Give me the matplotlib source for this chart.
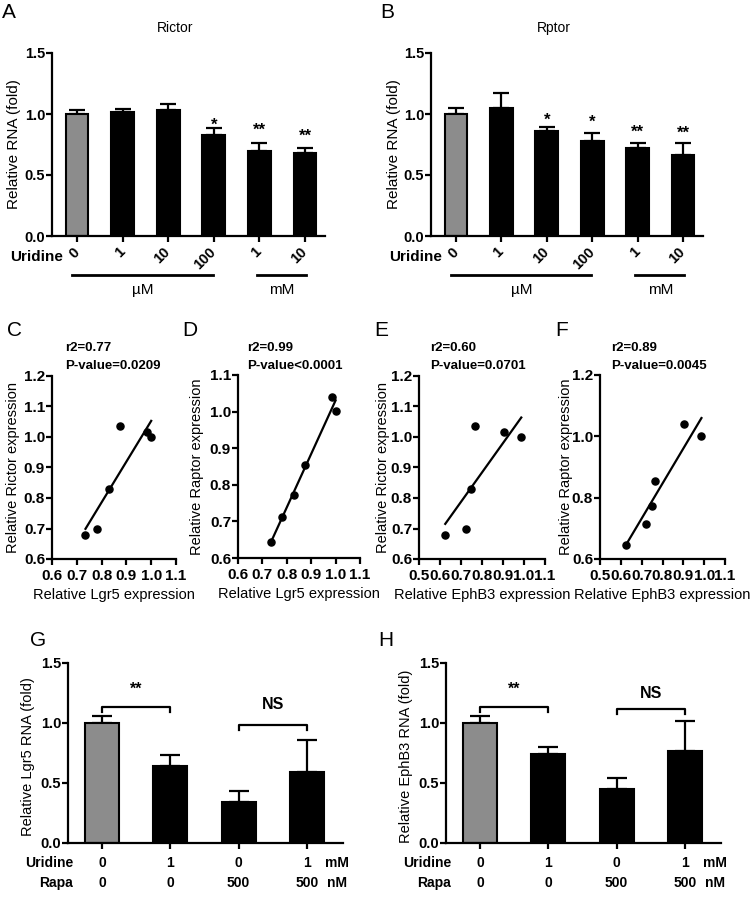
import numpy as np
import matplotlib
matplotlib.use("Agg")
import matplotlib.pyplot as plt

plt.rcParams['font.family'] = ['Liberation Sans', 'DejaVu Sans']

# === Data: panels A / B (uridine dose, relative RNA) ===
doses = ['0', '1', '10', '100', '1', '10']
rictor_mean = [1.00, 1.013, 1.035, 0.83, 0.70, 0.68]
rictor_sem = [0.03, 0.027, 0.045, 0.057, 0.06, 0.045]
rictor_stars = ['', '', '', '*', '**', '**']
rictor_star_y = [0, 0, 0, 0.953, 0.912, 0.857]
rptor_mean = [1.00, 1.048, 0.862, 0.78, 0.725, 0.66]
rptor_sem = [0.048, 0.122, 0.028, 0.063, 0.036, 0.106]
rptor_stars = ['', '', '*', '*', '**', '**']
rptor_star_y = [0, 0, 0.994, 0.975, 0.89, 0.884]

# === Data: panels C-F (correlations) ===
lgr5_x = [1.0, 0.985, 0.875, 0.83, 0.782, 0.735]
ephb3_x = [0.987, 0.904, 0.765, 0.75, 0.723, 0.625]
rictor_pts = [1.0, 1.015, 1.036, 0.831, 0.697, 0.679]
rptor_pts = [1.002, 1.04, 0.853, 0.772, 0.713, 0.645]

# === Data: panels G / H (uridine + rapamycin) ===
uridine = ['0', '1', '0', '1']
rapa = ['0', '0', '500', '500']
lgr5_mean = [1.0, 0.64, 0.34, 0.59]
lgr5_sem = [0.055, 0.096, 0.096, 0.266]
ephb3_mean = [1.0, 0.744, 0.453, 0.764]
ephb3_sem = [0.06, 0.053, 0.087, 0.256]
pairs = [(0, 1), (2, 3)]
pair_labels = ['**', 'NS']
lgr5_bracket_y = [1.133, 0.986]
lgr5_label_y = [1.278, 1.158]
ephb3_bracket_y = [1.133, 1.12]
ephb3_label_y = [1.283, 1.25]

W, H = 756, 899
fig = plt.figure(figsize=(W / 100, H / 100), dpi=100)


def box(l, t, r, b):
    return fig.add_axes([l / W, 1 - b / H, (r - l) / W, (b - t) / H])


def ftext(x, y, s, **kw):
    fig.text(x / W, 1 - y / H, s, **kw)


def style(ax):
    for s in ['top', 'right']:
        ax.spines[s].set_visible(False)
    for s in ['left', 'bottom']:
        ax.spines[s].set_linewidth(1.6)
    ax.tick_params(direction='out', length=4, width=1.6, pad=1)


def bars(ax, means, sems, capsize):
    x = np.arange(len(means))
    colors = ['#8c8c8c'] + ['black'] * (len(means) - 1)
    ax.bar(x, means, width=0.5, color=colors, edgecolor='black', linewidth=1.5, zorder=2)
    ax.errorbar(x, means, yerr=[np.zeros(len(sems)), sems], fmt='none', ecolor='black',
                elinewidth=1.6, capsize=capsize, capthick=1.6, zorder=1)
    ax.set_ylim(0, 1.5)
    ax.set_yticks([0, 0.5, 1.0, 1.5], ['0.0', '0.5', '1.0', '1.5'],
                  fontweight='bold', fontsize=10.5)
    style(ax)
    return x


def dose_panel(ax, means, sems, stars, star_y, title):
    x = bars(ax, means, sems, 6)
    ax.set_xlim(-0.55, 5.44)
    ax.set_xticks(x, doses, rotation=45, ha='right', va='center',
                  rotation_mode='anchor', fontweight='bold', fontsize=10.5)
    ax.tick_params(axis='x', pad=6)
    for i, s in enumerate(stars):
        if s:
            ax.annotate(s, (i, star_y[i]), xytext=(0, -7), textcoords='offset points',
                        ha='center', va='baseline', fontsize=12, fontweight='bold')
    ax.set_ylabel('Relative RNA (fold)', fontsize=11)
    ax.yaxis.set_label_coords(-0.112, 0.5)
    ax.text(0.45, 1.137, title, transform=ax.transAxes, ha='center', va='center', fontsize=10)
    tr = ax.get_xaxis_transform()
    ax.text(0.04, -0.115, 'Uridine', transform=ax.transAxes, ha='right', va='center',
            fontsize=11, fontweight='bold')
    ax.plot([-0.11, 2.98], [-0.213, -0.213], transform=tr, clip_on=False, color='k', lw=2)
    ax.plot([3.95, 5.02], [-0.213, -0.213], transform=tr, clip_on=False, color='k', lw=2)
    ax.text(1.45, -0.295, 'µM', transform=tr, ha='center', va='center', fontsize=11)
    ax.text(4.5, -0.295, 'mM', transform=tr, ha='center', va='center', fontsize=11)


def scatter_panel(ax, xs, ys, xlim, xticks, ylim, yticks, xlabel, ylabel, ylab_x):
    ax.scatter(xs, ys, s=26, color='black', zorder=3)
    k, b = np.polyfit(xs, ys, 1)
    xx = np.array([min(xs), max(xs)])
    ax.plot(xx, k * xx + b, color='black', lw=1.6)
    ax.set_xlim(*xlim)
    ax.set_ylim(*ylim)
    ax.set_xticks(xticks, ['%.1f' % v for v in xticks], fontweight='bold', fontsize=11)
    ax.set_yticks(yticks, ['%.1f' % v for v in yticks], fontweight='bold', fontsize=11)
    style(ax)
    ax.tick_params(axis='x', pad=3)
    ax.set_xlabel(xlabel, fontsize=10.5)
    ax.xaxis.set_label_coords(0.5, -0.16)
    ax.set_ylabel(ylabel, fontsize=10.5)
    ax.yaxis.set_label_coords(ylab_x, 0.5)


def rapa_panel(ax, means, sems, bracket_y, label_y, ylabel):
    x = bars(ax, means, sems, 7)
    ax.set_xlim(-0.5, 3.53)
    ax.set_xticks(x, [''] * len(x))
    for (i, j), lab, by, ly in zip(pairs, pair_labels, bracket_y, label_y):
        ax.plot([i, i, j, j], [by - 0.045, by, by, by - 0.045], color='k', lw=1.6)
        ax.text((i + j) / 2, ly, lab, ha='center', va='center', fontsize=11.5, fontweight='bold')
    tr = ax.get_xaxis_transform()
    ax.text(0.018, -0.11, 'Uridine', transform=ax.transAxes, ha='right', va='center',
            fontsize=10, fontweight='bold')
    ax.text(0.018, -0.222, 'Rapa', transform=ax.transAxes, ha='right', va='center',
            fontsize=10, fontweight='bold')
    for i in x:
        ax.text(i, -0.11, uridine[i], transform=tr, ha='center', va='center',
                fontsize=10, fontweight='bold')
        ax.text(i, -0.222, rapa[i], transform=tr, ha='center', va='center',
                fontsize=10, fontweight='bold')
    ax.text(3.44, -0.11, 'mM', transform=tr, ha='center', va='center', fontsize=10, fontweight='bold')
    ax.text(3.44, -0.222, 'nM', transform=tr, ha='center', va='center', fontsize=10, fontweight='bold')
    ax.set_ylabel(ylabel, fontsize=10.5)
    ax.yaxis.set_label_coords(-0.12, 0.48)


# === A / B ===
axA = box(52, 53, 325, 236)
dose_panel(axA, rictor_mean, rictor_sem, rictor_stars, rictor_star_y, 'Rictor')
axB = box(431, 53, 703, 236)
dose_panel(axB, rptor_mean, rptor_sem, rptor_stars, rptor_star_y, 'Rptor')

# === C-F ===
t6 = [0.6, 0.7, 0.8, 0.9, 1.0, 1.1]
t5 = [0.5, 0.6, 0.7, 0.8, 0.9, 1.0, 1.1]
axC = box(52, 376, 176, 559)
scatter_panel(axC, lgr5_x, rictor_pts, (0.6, 1.1), t6, (0.6, 1.2),
              [0.6, 0.7, 0.8, 0.9, 1.0, 1.1, 1.2], 'Relative Lgr5 expression',
              'Relative Rictor expression', -0.258)
axD = box(238, 375, 360, 558)
scatter_panel(axD, lgr5_x, rptor_pts, (0.6, 1.1), t6, (0.6, 1.1),
              [0.6, 0.7, 0.8, 0.9, 1.0, 1.1], 'Relative Lgr5 expression',
              'Relative Raptor expression', -0.279)
axE = box(419, 376, 545, 559)
scatter_panel(axE, ephb3_x, rictor_pts, (0.5, 1.1), t5, (0.6, 1.2),
              [0.6, 0.7, 0.8, 0.9, 1.0, 1.1, 1.2], 'Relative EphB3 expression',
              'Relative Rictor expression', -0.23)
axF = box(600, 375, 725, 559)
scatter_panel(axF, ephb3_x, rptor_pts, (0.5, 1.1), t5, (0.6, 1.2),
              [0.6, 0.8, 1.0, 1.2], 'Relative EphB3 expression',
              'Relative Raptor expression', -0.216)

stats = [(65, 'r2=0.77', 'P-value=0.0209'), (247, 'r2=0.99', 'P-value<0.0001'),
         (430, 'r2=0.60', 'P-value=0.0701'), (611, 'r2=0.89', 'P-value=0.0045')]
for x0, r2, p in stats:
    ftext(x0, 348, r2, ha='left', va='center', fontsize=9.5, fontweight='bold')
    ftext(x0, 366, p, ha='left', va='center', fontsize=9.5, fontweight='bold')

# === G / H ===
axG = box(68, 663, 343, 843)
rapa_panel(axG, lgr5_mean, lgr5_sem, lgr5_bracket_y, lgr5_label_y, 'Relative Lgr5 RNA (fold)')
axH = box(446, 663, 721, 843)
rapa_panel(axH, ephb3_mean, ephb3_sem, ephb3_bracket_y, ephb3_label_y, 'Relative EphB3 RNA (fold)')

# === panel letters ===
for x0, y0, s in [(2, 13, 'A'), (380, 13, 'B'), (7, 330, 'C'), (182, 330, 'D'),
                  (374, 330, 'E'), (555, 330, 'F'), (30, 640, 'G'), (378, 640, 'H')]:
    ftext(x0, y0, s, ha='left', va='center', fontsize=15)

fig.savefig('out.png', dpi=100)
